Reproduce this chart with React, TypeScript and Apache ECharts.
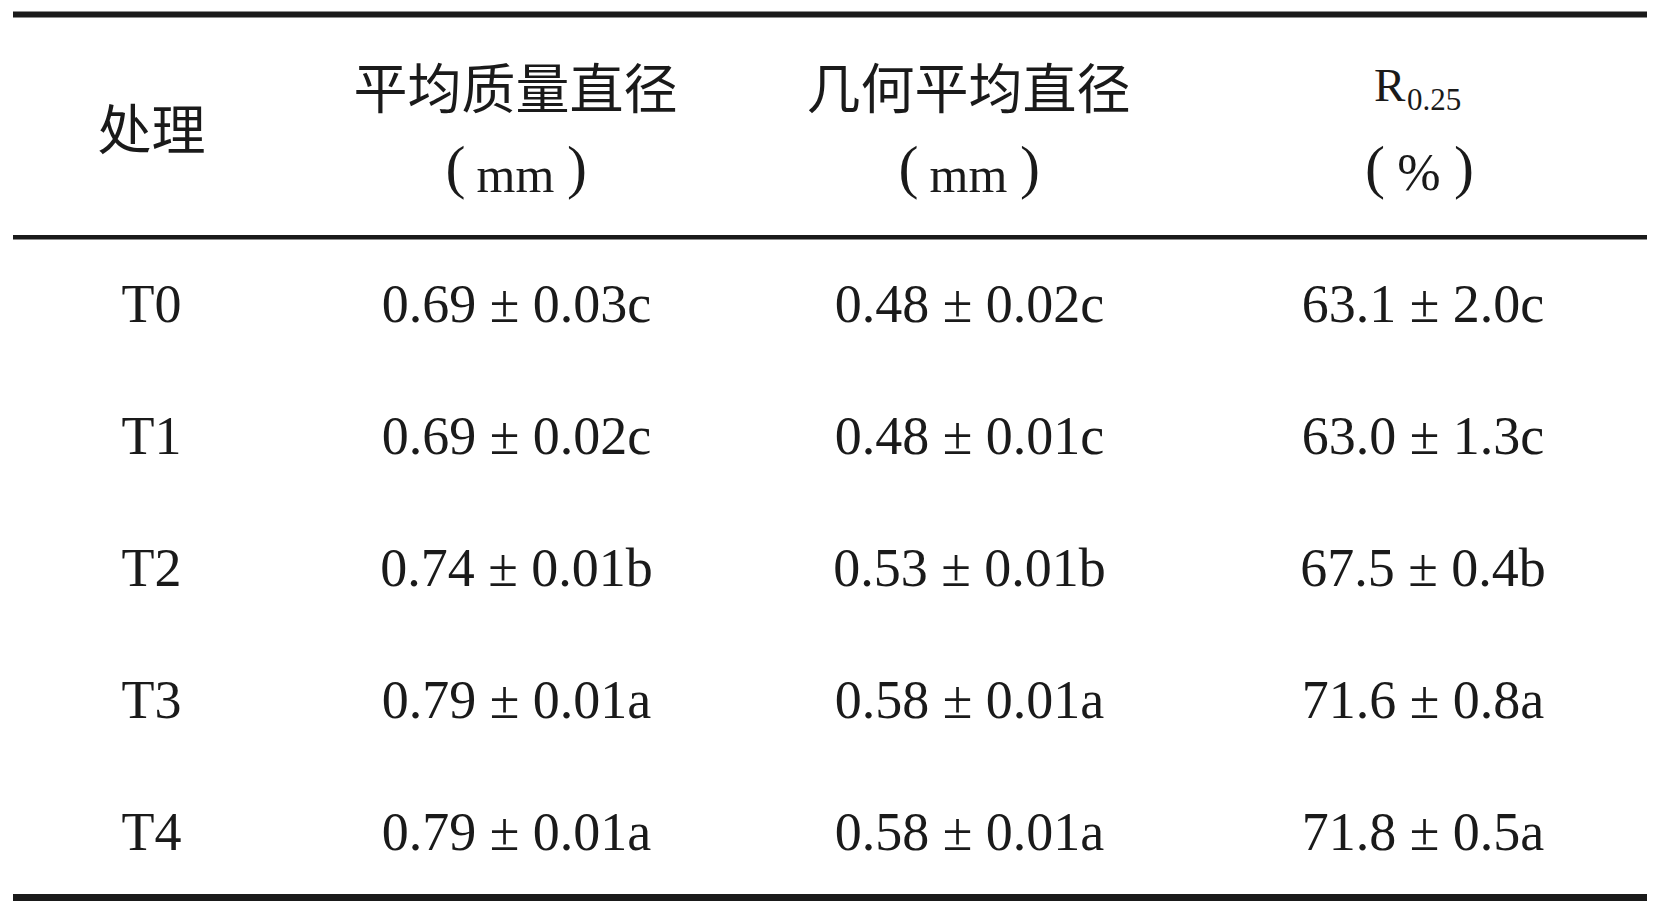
import React, { useEffect, useRef } from "react";
import * as echarts from "echarts";

// ---- data ----
const treatments = ["T0", "T1", "T2", "T3", "T4"];
const mwdMean = [0.69, 0.69, 0.74, 0.79, 0.79];
const mwdSE = [0.03, 0.02, 0.01, 0.01, 0.01];
const mwdLetter = ["c", "c", "b", "a", "a"];
const gmdMean = [0.48, 0.48, 0.53, 0.58, 0.58];
const gmdSE = [0.02, 0.01, 0.01, 0.01, 0.01];
const gmdLetter = ["c", "c", "b", "a", "a"];
const r025Mean = [63.1, 63.0, 67.5, 71.6, 71.8];
const r025SE = [2.0, 1.3, 0.4, 0.8, 0.5];
const r025Letter = ["c", "c", "b", "a", "a"];

const headerTreat = "处理";
const headerMwd = "平均质量直径";
const headerGmd = "几何平均直径";
const headerR = "R";
const headerRSub = "0.25";
const unitMm = "mm";
const unitPct = "%";

// ---- layout ----
const W = 1655;
const H = 909;
const COL_X = [151.5, 516.5, 969.5, 1423];
const TABLE_L = 13;
const TABLE_R = 1647;
const INK = "#1a1a1a";
const SERIF = '"Liberation Serif", "Times New Roman", serif';
const CJK = '"Noto Sans CJK SC", sans-serif';

const fmt = (m: number[], s: number[], l: string[], d: number) =>
  m.map((v, i) => `${v.toFixed(d)} ± ${s[i].toFixed(d)}${l[i]}`);

export default function App() {
  const ref = useRef<HTMLDivElement>(null);
  useEffect(() => {
    if (!ref.current) return;
    const chart = echarts.init(ref.current, undefined, { renderer: "svg" });
    const columns = [
      treatments,
      fmt(mwdMean, mwdSE, mwdLetter, 2),
      fmt(gmdMean, gmdSE, gmdLetter, 2),
      fmt(r025Mean, r025SE, r025Letter, 1),
    ];
    const series = columns.map((texts, c) => ({
      type: "scatter",
      symbolSize: 0,
      silent: true,
      itemStyle: { opacity: 1 },
      data: treatments.map((t, i) => ({ value: [COL_X[c], t], name: texts[i] })),
      label: {
        show: true,
        position: "inside",
        formatter: (p: any) => p.name,
        fontFamily: SERIF,
        fontSize: 54,
        color: INK,
        opacity: 1,
      },
    }));

    const txt = (text: string, x: number, y: number, font: string, align = "center") => ({
      type: "text",
      silent: true,
      style: { text, x, y, font, fill: INK, textAlign: align, textVerticalAlign: "middle" },
    });
    const rule = (y: number, h: number) => ({
      type: "rect",
      silent: true,
      shape: { x: TABLE_L, y, width: TABLE_R - TABLE_L, height: h },
      style: { fill: INK },
    });
    const unit = (cx: number, u: string, uSize: number, uy: number, dl: number, dr: number) => [
      txt("(", cx - dl, 167, `60px ${SERIF}`),
      txt(")", cx + dr, 167, `60px ${SERIF}`),
      txt(u, cx - 1, uy, `${uSize}px ${SERIF}`),
    ];

    const graphic: any[] = [
      rule(11.5, 6),
      rule(235, 4.5),
      rule(894, 7),
      txt(headerTreat, COL_X[0], 126, `54px ${CJK}`),
      txt(headerMwd, COL_X[1] - 1, 85, `54px ${CJK}`),
      txt(headerGmd, COL_X[2] - 1, 85, `54px ${CJK}`),
      txt(headerR, 1374, 85, `47px ${SERIF}`, "left"),
      txt(headerRSub, 1407, 99.5, `31px ${SERIF}`, "left"),
      ...unit(COL_X[1], unitMm, 50, 175, 61, 60.5),
      ...unit(COL_X[2], unitMm, 50, 175, 61, 60.5),
      ...unit(1420, unitPct, 52, 172.5, 45, 44),
    ];

    chart.setOption({
      animation: false,
      backgroundColor: "#ffffff",
      grid: { left: 0, right: 0, top: 238, bottom: 11 },
      xAxis: { type: "value", min: 0, max: W, show: false },
      yAxis: { type: "category", data: treatments, inverse: true, show: false },
      series,
      graphic,
    });
    return () => chart.dispose();
  }, []);
  return (
    <div
      ref={ref}
      style={{ position: "absolute", left: 0, top: 0, width: W, height: H, background: "#fff" }}
    />
  );
}
